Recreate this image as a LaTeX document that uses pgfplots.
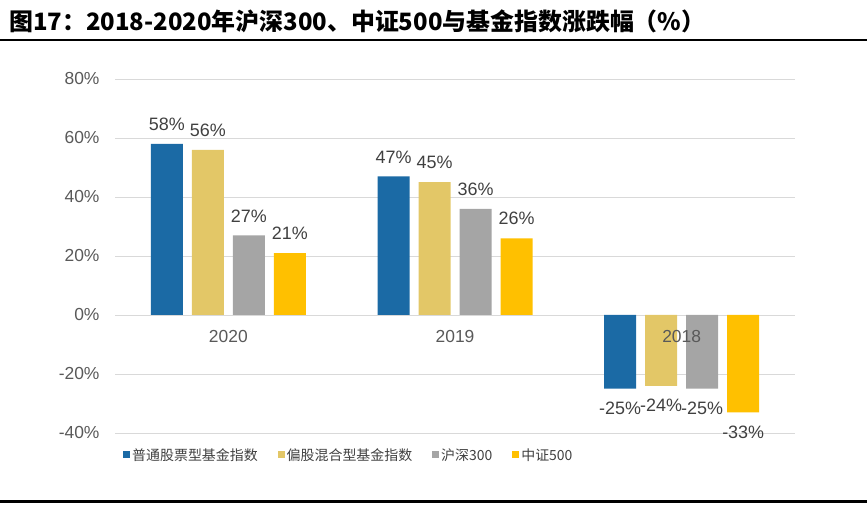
\documentclass[border=0pt]{standalone}
\usepackage{fontspec}
\setmainfont{Liberation Sans}
\newfontfamily\cjk{Noto Sans CJK SC}
\usepackage{pgfplots}
\pgfplotsset{compat=1.18}

\definecolor{cBlue}{HTML}{1B6AA5}
\definecolor{cYel}{HTML}{E3C767}
\definecolor{cGray}{HTML}{A5A5A5}
\definecolor{cGold}{HTML}{FFC000}
\definecolor{gridc}{HTML}{D9D9D9}
\definecolor{txt}{HTML}{404040}
\definecolor{tick}{HTML}{595959}

\begin{document}
\begin{tikzpicture}[x=1bp,y=1bp]
\useasboundingbox (0,0) rectangle (867,505);
% title and rules
\node[anchor=west, inner sep=0, font=\cjk\bfseries\fontsize{24}{27}\selectfont] at (9,484)
  {图17：2018-2020年沪深300、中证500与基金指数涨跌幅（\%）};
\draw[line width=2.2bp] (0,465) -- (867,465);
\draw[line width=2.5bp] (0,3.5) -- (867,3.5);

\begin{axis}[
    at={(115bp,72bp)}, anchor=south west,
    width=680bp, height=354bp, scale only axis,
    xmin=-0.5, xmax=2.5, ymin=-40, ymax=80,
    ybar=9bp, bar width=32bp,
    axis x line*=middle, axis y line*=left,
    x axis line style={draw=gridc, line width=0.8bp},
    y axis line style={draw=none},
    hide obscured x ticks=false, hide obscured y ticks=false,
    xtick={0,1,2}, xticklabels={},
    ytick={-40,-20,0,20,40,60,80},
    major tick length=0pt,
    ymajorgrids, grid style={draw=gridc, line width=0.8bp},
    /pgf/number format/assume math mode=true,
    yticklabel={\pgfmathprintnumber{\tick}\%},
    tick label style={font=\fontsize{17.5}{20}\selectfont, text=tick},
    yticklabel style={xshift=-12bp},
    nodes near coords={\pgfmathprintnumber{\pgfplotspointmeta}\%},
    nodes near coords style={font=\fontsize{18}{20}\selectfont, text=txt, inner sep=13bp},
    legend columns=4,
    legend style={at={(0.0118,-0.062)}, anchor=west, draw=none, fill=none,
        inner sep=0pt, font=\cjk\fontsize{14}{16}\selectfont, text=txt,
        /tikz/every even column/.append style={column sep=18bp}},
    legend image code/.code={\fill[#1] (0bp,-3.5bp) rectangle (7bp,3.5bp);},
]
\addplot[fill=cBlue, draw=none] coordinates {(0,58) (1,47) (2,-25)};
\addplot[fill=cYel, draw=none] coordinates {(0,56) (1,45) (2,-24)};
\addplot[fill=cGray, draw=none] coordinates {(0,27) (1,36) (2,-25)};
\addplot[fill=cGold, draw=none] coordinates {(0,21) (1,26) (2,-33)};
\legend{普通股票型基金指数, 偏股混合型基金指数, 沪深300, 中证500}
% category names, drawn over the bars as in the reference
\foreach \i/\lab in {0/2020,1/2019,2/2018}{
  \edef\tmp{\noexpand\node[anchor=north, inner sep=0pt, yshift=-15bp,
      font=\noexpand\fontsize{17.5}{20}\noexpand\selectfont, text=tick]
      at (axis cs:\i,0) {\lab};}\tmp
}
\end{axis}
\end{tikzpicture}
\end{document}
